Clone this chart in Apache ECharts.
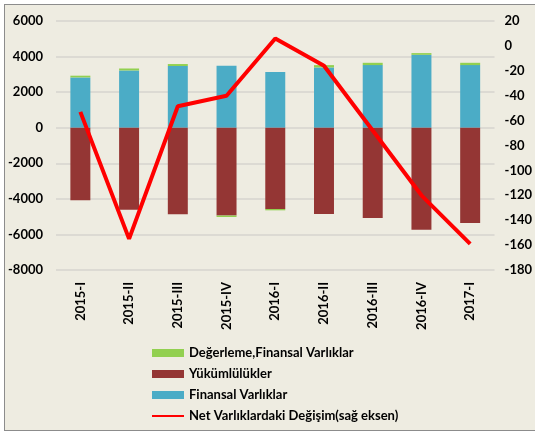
<!DOCTYPE html>
<html>
<head>
<meta charset="utf-8">
<script src="https://cdn.jsdelivr.net/npm/echarts@6/dist/echarts.min.js"></script>
<style>
html, body { margin: 0; padding: 0; background: #ffffff; overflow: hidden; }
#bg { position: absolute; left: 4px; top: 4px; width: 540px; height: 425px;
      background: #EEECE1; border-left: 1px solid #8c8c8c; border-top: 1px solid #8c8c8c; border-bottom: 1px solid #8c8c8c; }
#main { position: absolute; left: 0; top: 0; width: 535px; height: 432px; }
</style>
</head>
<body>
<div id="bg"></div>
<div id="main"></div>
<script>
// donemler
var categories = ['2015-I', '2015-II', '2015-III', '2015-IV', '2016-I', '2016-II', '2016-III', '2016-IV', '2017-I'];
// sol eksen (milyon)
var finansalVarliklar = [2830, 3220, 3470, 3480, 3130, 3390, 3520, 4100, 3520];
var yukumlulukler = [-4080, -4610, -4870, -4940, -4570, -4850, -5070, -5730, -5360];
var degerleme = [95, 110, 110, -80, -75, 130, 130, 95, 130];
// sag eksen
var netDegisim = [-53, -155, -48.5, -40, 6, -16, -68, -120, -159];
var leftTicks = { min: -8000, max: 6000, interval: 2000 };
var rightTicks = { min: -180, max: 20, interval: 20 };

var font = 'Lato, "Noto Sans", sans-serif';
var lbl = { color: '#000', fontFamily: font, fontWeight: 'bold', fontSize: 13 };

var myChart = echarts.init(document.getElementById('main'));
myChart.setOption({
	animation: false,
	grid: { left: 56, right: 40, top: 21, bottom: 162 },
	legend: {
		orient: 'vertical',
		left: 146,
		top: 341,
		itemWidth: 32,
		itemHeight: 8,
		itemGap: 7,
		textStyle: { color: '#000', fontFamily: font, fontWeight: 'bold', fontSize: 13, lineHeight: 14 },
		data: [
			{ name: 'Değerleme,Finansal Varlıklar', icon: 'rect' },
			{ name: 'Yükümlülükler', icon: 'rect' },
			{ name: 'Finansal Varlıklar', icon: 'rect' },
			{ name: 'Net Varlıklardaki Değişim(sağ eksen)', itemStyle: { opacity: 0 } }
		]
	},
	xAxis: {
		type: 'category',
		data: categories,
		axisLine: { show: false },
		axisTick: { show: false },
		axisLabel: Object.assign({ rotate: 90, margin: 12, interval: 0 }, lbl)
	},
	yAxis: [{
		type: 'value',
		min: leftTicks.min, max: leftTicks.max, interval: leftTicks.interval,
		axisLine: { show: false },
		axisTick: { show: false },
		axisLabel: Object.assign({ margin: 13, formatter: function (v) { return String(v); } }, lbl),
		splitLine: { lineStyle: { color: '#D6D4CE', width: 1.5 } }
	}, {
		type: 'value',
		min: rightTicks.min, max: rightTicks.max, interval: rightTicks.interval,
		axisLine: { show: false },
		axisTick: { show: false },
		axisLabel: Object.assign({ margin: 10 }, lbl),
		splitLine: { show: false }
	}],
	series: [{
		name: 'Finansal Varlıklar',
		type: 'bar',
		stack: 'a',
		barWidth: '41%',
		itemStyle: { color: '#4BACC6' },
		data: finansalVarliklar
	}, {
		name: 'Yükümlülükler',
		type: 'bar',
		stack: 'a',
		itemStyle: { color: '#943634' },
		data: yukumlulukler
	}, {
		name: 'Değerleme,Finansal Varlıklar',
		type: 'bar',
		stack: 'a',
		itemStyle: { color: '#92D050' },
		data: degerleme
	}, {
		name: 'Net Varlıklardaki Değişim(sağ eksen)',
		type: 'line',
		yAxisIndex: 1,
		symbol: 'none',
		lineStyle: { color: '#FF0000', width: 4 },
		itemStyle: { color: '#FF0000' },
		data: netDegisim
	}]
});
</script>
</body>
</html>
